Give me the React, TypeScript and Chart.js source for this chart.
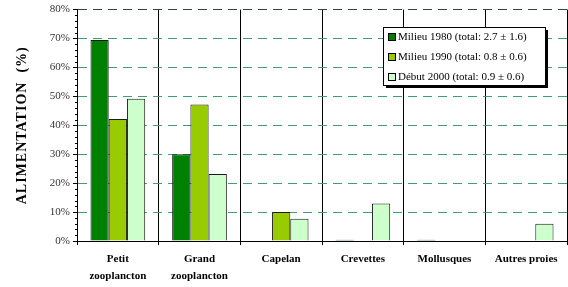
import React, { useEffect, useRef } from "react";
import { Chart, registerables } from "chart.js";

Chart.register(...registerables);

const categories: string[][] = [
  ["Petit", "zooplancton"],
  ["Grand", "zooplancton"],
  ["Capelan"],
  ["Crevettes"],
  ["Mollusques"],
  ["Autres proies"],
];
const seriesLabels = [
  "Milieu 1980 (total: 2.7 \u00B1 1.6)",
  "Milieu 1990 (total: 0.8 \u00B1 0.6)",
  "D\u00E9but 2000 (total: 0.9 \u00B1 0.6)",
];
const milieu1980 = [69.5, 30, 0, 0.4, 0.4, 0];
const milieu1990 = [42.2, 47.2, 10, 0, 0, 0];
const debut2000 = [49.2, 23.2, 7.7, 13, 0, 6];
const seriesColors = ["#008000", "#99CC00", "#CCFFCC"];
const yTicks = [0, 10, 20, 30, 40, 50, 60, 70, 80];
const yTitle = "ALIMENTATION  (%)";

const SERIF = "'Liberation Serif', 'Times New Roman', serif";

const legendPlugin = {
  id: "customLegend",
  afterDraw(chart: any) {
    const ctx = chart.ctx;
    const x = 383, y = 27, w = 162, h = 58;
    ctx.save();
    ctx.fillStyle = "#000";
    ctx.fillRect(x + 3, y + 3, w, h);
    ctx.fillStyle = "#fff";
    ctx.fillRect(x, y, w, h);
    ctx.strokeStyle = "#000";
    ctx.lineWidth = 1;
    ctx.strokeRect(x + 0.5, y + 0.5, w, h);
    ctx.font = `11px ${SERIF}`;
    ctx.textBaseline = "middle";
    chart.data.datasets.forEach((ds: any, i: number) => {
      const cy = y + 10 + i * 20;
      ctx.fillStyle = ds.backgroundColor;
      ctx.fillRect(x + 5, cy - 3.5, 7, 7);
      ctx.strokeRect(x + 5.5, cy - 3.5, 7, 7);
      ctx.fillStyle = "#000";
      ctx.fillText(ds.label, x + 15, cy + 0.5);
    });
    ctx.restore();
  },
};

const yTitlePlugin = {
  id: "yTitle",
  afterDraw(chart: any) {
    const ctx = chart.ctx;
    const ca = chart.chartArea;
    ctx.save();
    ctx.translate(22, (ca.top + ca.bottom) / 2);
    ctx.rotate(-Math.PI / 2);
    ctx.font = `bold 14px ${SERIF}`;
    try {
      (ctx as any).letterSpacing = "1px";
    } catch (e) {}
    ctx.fillStyle = "#000";
    ctx.textAlign = "center";
    ctx.textBaseline = "middle";
    ctx.fillText(yTitle, 0, 0);
    ctx.restore();
  },
};

const minorTicksPlugin = {
  id: "minorTicks",
  afterDraw(chart: any) {
    const ctx = chart.ctx;
    const ys = chart.scales.y;
    const left = chart.chartArea.left;
    ctx.save();
    ctx.strokeStyle = "#000";
    ctx.lineWidth = 1;
    for (let v = 0; v <= 80; v += 2) {
      if (v % 10 === 0) continue;
      const py = Math.round(ys.getPixelForValue(v)) + 0.5;
      ctx.beginPath();
      ctx.moveTo(left - 2, py);
      ctx.lineTo(left + 1, py);
      ctx.stroke();
    }
    ctx.restore();
  },
};

export default function App() {
  const ref = useRef<HTMLCanvasElement>(null);
  useEffect(() => {
    document.body.style.margin = "0";
    const chart = new Chart(ref.current!, {
      type: "bar",
      data: {
        labels: categories,
        datasets: [milieu1980, milieu1990, debut2000].map((d, i) => ({
          label: seriesLabels[i],
          data: d,
          backgroundColor: seriesColors[i],
          borderColor: "#1a1a1a",
          borderWidth: 1,
          barPercentage: 1,
          categoryPercentage: 0.67,
        })),
      },
      options: {
        animation: false,
        responsive: false,
        layout: { padding: { top: 9, right: 1, left: 0, bottom: 0 } },
        plugins: { legend: { display: false }, tooltip: { enabled: false } },
        scales: {
          x: {
            afterFit(scale: any) {
              scale.height = 46;
            },
            grid: {
              color: "#000",
              lineWidth: 1,
              offset: true,
              tickLength: 4,
              tickColor: "#000",
            },
            border: { color: "#000", width: 1 },
            ticks: {
              color: "#000",
              padding: 6,
              font: { family: SERIF, size: 11, weight: "bold", lineHeight: 1.55 },
            },
          },
          y: {
            min: 0,
            max: 80,
            afterFit(scale: any) {
              scale.width = 77;
            },
            afterBuildTicks(scale: any) {
              scale.ticks = yTicks.map((v) => ({ value: v }));
            },
            grid: {
              color: (c: any) =>
                c.tick && c.tick.value === 0
                  ? "rgba(0,0,0,0)"
                  : c.tick && c.tick.value === 80
                  ? "#2a4a3a"
                  : "#3f9f70",
              lineWidth: 1,
              tickLength: 4,
              tickColor: "#000",
              tickBorderDash: [],
            },
            border: { color: "#000", width: 1, dash: [9, 6] },
            ticks: {
              color: "#333",
              padding: 3,
              font: { family: SERIF, size: 11 },
              callback: (v: any) => v + "%",
            },
            title: { display: false },
          },
        },
      } as any,
      plugins: [legendPlugin, minorTicksPlugin, yTitlePlugin],
    });
    return () => chart.destroy();
  }, []);
  return (
    <div style={{ width: 568, height: 287 }}>
      <canvas ref={ref} width={568} height={287} />
    </div>
  );
}
